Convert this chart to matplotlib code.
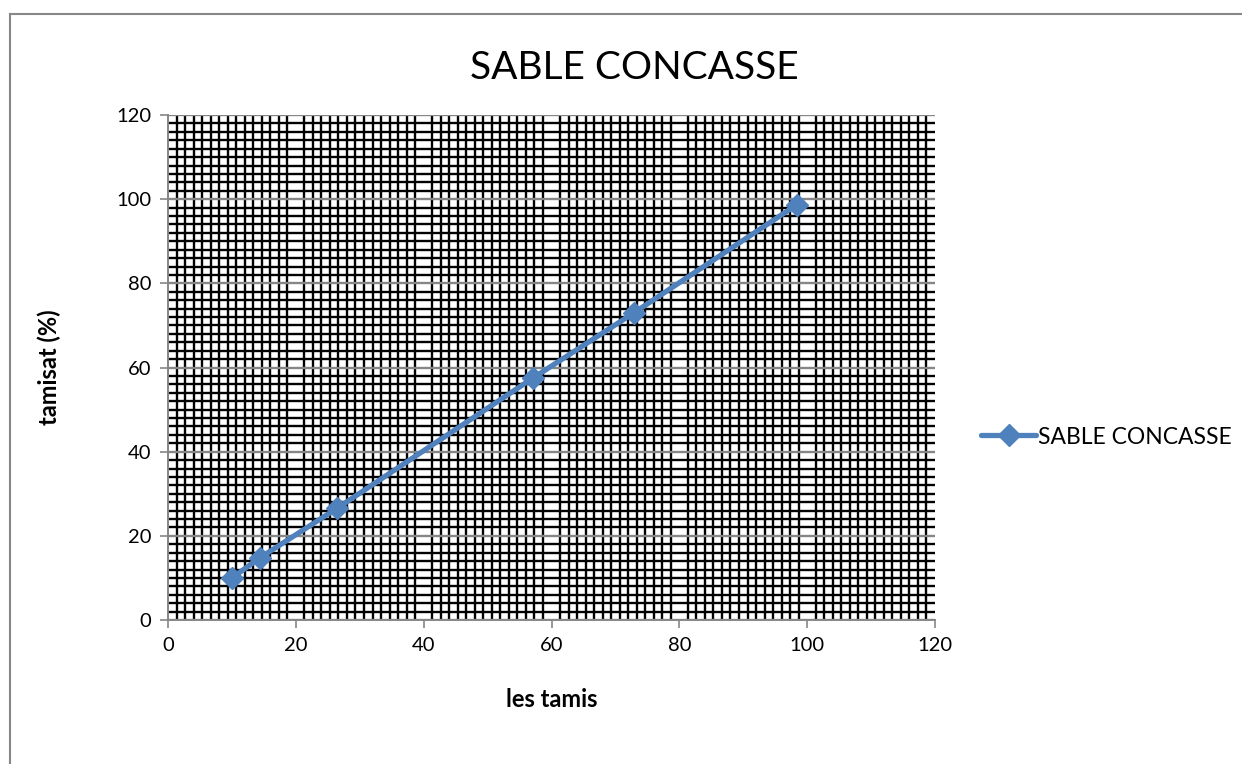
import numpy as np
import matplotlib
matplotlib.use("Agg")
import matplotlib.pyplot as plt
from matplotlib.lines import Line2D

plt.rcParams['font.family'] = ['Lato', 'DejaVu Sans']

title = "SABLE CONCASSE"
series_name = "SABLE CONCASSE"
x_label = "les tamis"
y_label = "tamisat (%)"
tamis = [10, 14.4, 26.4, 57.1, 72.9, 98.4]
tamisat = [10, 14.8, 26.5, 57.5, 73, 98.7]
x_ticks = [0, 20, 40, 60, 80, 100, 120]
y_ticks = [0, 20, 40, 60, 80, 100, 120]

W, H = 1242, 764
fig = plt.figure(figsize=(W / 100, H / 100), dpi=100)
ax = fig.add_axes([168 / W, 1 - 620 / H, (935 - 168) / W, (620 - 115) / H])

ax.set_xlim(0, 120)
ax.set_ylim(0, 120)
ax.set_xticks(x_ticks)
ax.set_yticks(y_ticks)
ax.set_xticks(np.linspace(0, 120, 91), minor=True)
ax.set_yticks(np.arange(0, 121, 2), minor=True)
ax.tick_params(which='minor', length=0)
ax.tick_params(which='major', length=6, width=1.2, color='#868686', labelsize=14.5, pad=6)

ax.grid(which='minor', axis='both', color='black', linewidth=1.7, zorder=0)
ax.grid(which='major', axis='y', color='#868686', linewidth=1.7, zorder=1)
ax.grid(which='major', axis='x', visible=False)
ax.set_axisbelow(True)

for s in ['top', 'right']:
    ax.spines[s].set_visible(False)
for s in ['left', 'bottom']:
    ax.spines[s].set_color('#868686')
    ax.spines[s].set_linewidth(1.4)

ax.plot(tamis, tamisat, color='#4F81BD', linewidth=3.8, marker='D', markersize=11,
        label=series_name, zorder=5, solid_capstyle='round')

ax.set_xlabel(x_label, fontsize=17, fontweight='bold', labelpad=25)
ax.set_ylabel(y_label, fontsize=17, fontweight='bold', labelpad=40)

fig.text(634 / W, 1 - 68 / H, title, fontsize=28, ha='center', va='center')

leg = fig.legend(loc='center left', bbox_to_anchor=(972 / W, 1 - 437 / H), frameon=False,
                 fontsize=16.5, handlelength=2.4, handletextpad=0.1, borderaxespad=0)

# outer chart frame
fig.add_artist(Line2D([10 / W, 10 / W], [0, 1 - 14 / H], color='#878787', linewidth=1.5,
                      transform=fig.transFigure))
fig.add_artist(Line2D([10 / W, 1], [1 - 14 / H, 1 - 14 / H], color='#878787', linewidth=1.5,
                      transform=fig.transFigure))

fig.savefig('out.png', dpi=100, facecolor='white')
